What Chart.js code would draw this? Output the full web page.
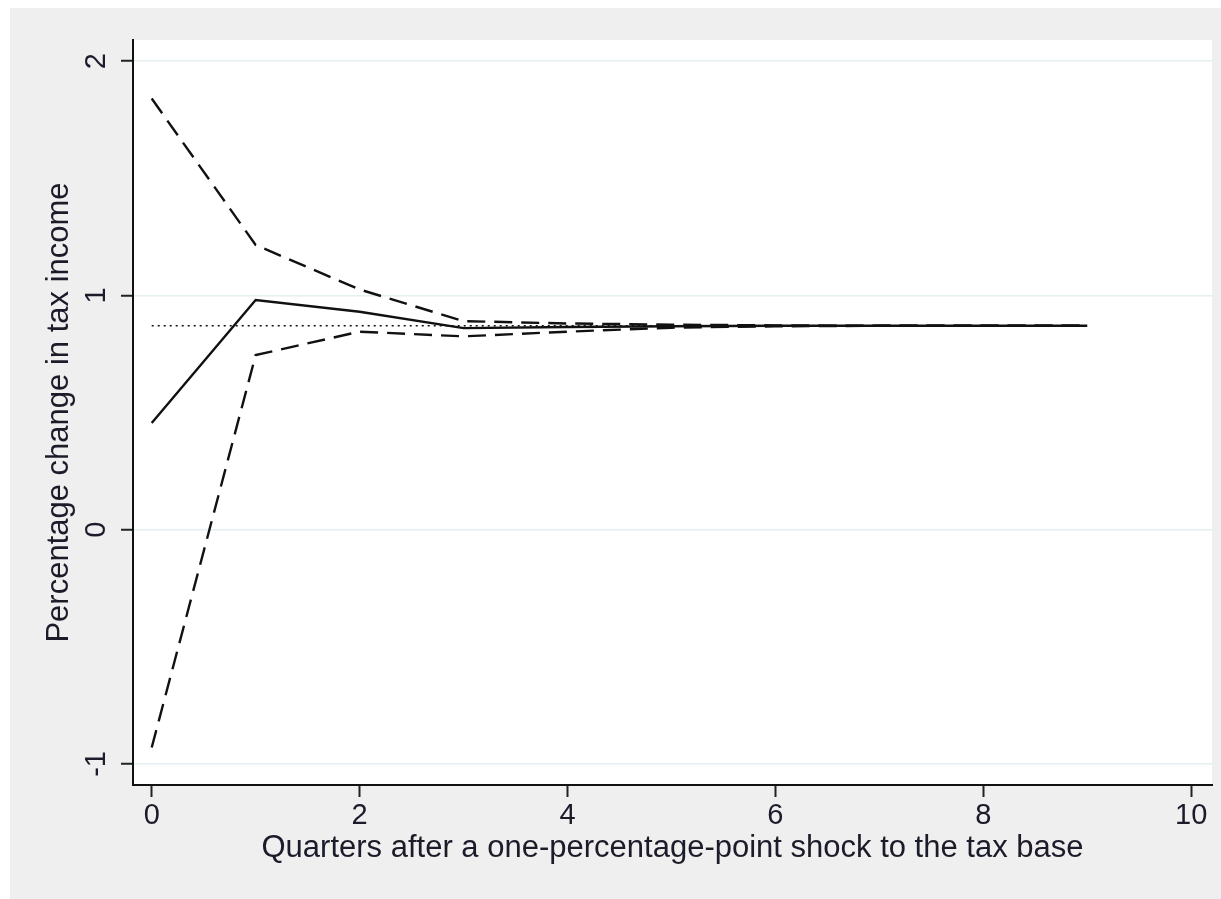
<!DOCTYPE html>
<html>
<head>
<meta charset="utf-8">
<script src="https://cdn.jsdelivr.net/npm/chart.js@4"></script>
<style>
  html, body { margin: 0; padding: 0; background: #fff; }
  canvas { display: block; }
</style>
</head>
<body>
<canvas id="irf" width="1221" height="899"></canvas>
<script>
// quarters after the shock
const quarters = [0, 1, 2, 3, 4, 5, 6, 7, 8, 9];
// impulse response (solid) and confidence band (dashed)
const response = [0.455, 0.98, 0.93, 0.86, 0.865, 0.868, 0.87, 0.87, 0.87, 0.87];
const upperBand = [1.84, 1.215, 1.025, 0.89, 0.88, 0.875, 0.872, 0.87, 0.87, 0.87];
const lowerBand = [-0.93, 0.745, 0.845, 0.825, 0.845, 0.862, 0.868, 0.87, 0.87, 0.87];
// long-run level (dotted)
const longRunX = [0, 9];
const longRunY = [0.87, 0.87];

const xTicks = [0, 2, 4, 6, 8, 10];
const yTicks = [-1, 0, 1, 2];

const FONT = "'Liberation Sans', Arial, sans-serif";
const TEXT = '#1b1b2a';

const toPoints = (xs, ys) => xs.map((x, i) => ({ x: x, y: ys[i] }));

// grey page + white plot region (Stata look)
const backdrop = {
    id: 'backdrop',
    beforeDraw(chart) {
        const { ctx, chartArea: a, width, height } = chart;
        ctx.save();
        ctx.fillStyle = '#efefef';
        ctx.fillRect(10, 8, width - 10, height - 8);
        ctx.fillStyle = '#ffffff';
        ctx.fillRect(a.left, a.top, a.right - a.left, a.bottom - a.top);
        ctx.restore();
    }
};

const lineStyle = (dash, width) => ({
    borderColor: '#111',
    borderWidth: width,
    borderDash: dash,
    pointRadius: 0,
    tension: 0,
    fill: false
});

new Chart(document.getElementById('irf'), {
    type: 'line',
    data: {
        datasets: [
            { label: 'Response', data: toPoints(quarters, response), ...lineStyle([], 2.4) },
            { label: 'Upper', data: toPoints(quarters, upperBand), ...lineStyle([18, 9], 2.4) },
            { label: 'Lower', data: toPoints(quarters, lowerBand), ...lineStyle([18, 9], 2.4) },
            { label: 'Long run', data: toPoints(longRunX, longRunY), ...lineStyle([2, 4], 1.6) }
        ]
    },
    options: {
        responsive: false,
        animation: false,
        layout: { padding: { left: 0, top: 40, right: 9, bottom: 0 } },
        plugins: { legend: { display: false }, tooltip: { enabled: false } },
        scales: {
            x: {
                type: 'linear',
                min: -0.18,
                max: 10.2,
                afterBuildTicks: s => { s.ticks = xTicks.map(v => ({ value: v })); },
                afterFit: s => { s.height = 114; },
                grid: { drawOnChartArea: false, tickLength: 12, tickColor: '#222', tickWidth: 2 },
                border: { display: true, color: '#111', width: 2 },
                ticks: { color: TEXT, font: { family: FONT, size: 29 }, padding: 2, maxRotation: 0 },
                title: {
                    display: true,
                    text: 'Quarters after a one-percentage-point shock to the tax base',
                    color: TEXT,
                    font: { family: FONT, size: 31 },
                    padding: { top: 0, bottom: 32 }
                }
            },
            y: {
                type: 'linear',
                min: -1.09,
                max: 2.09,
                afterBuildTicks: s => { s.ticks = yTicks.map(v => ({ value: v })); },
                afterFit: s => { s.width = 133; },
                grid: { color: '#e4eff1', lineWidth: 1.5, tickLength: 12, tickColor: '#222', tickWidth: 2 },
                border: { display: true, color: '#111', width: 2 },
                ticks: { color: TEXT, font: { family: FONT, size: 29 }, padding: 11, minRotation: 90, maxRotation: 90, crossAlign: 'center' },
                title: {
                    display: true,
                    text: 'Percentage change in tax income',
                    color: TEXT,
                    font: { family: FONT, size: 31 },
                    padding: { top: 41, bottom: 0 }
                }
            }
        }
    },
    plugins: [backdrop]
});
</script>
</body>
</html>
